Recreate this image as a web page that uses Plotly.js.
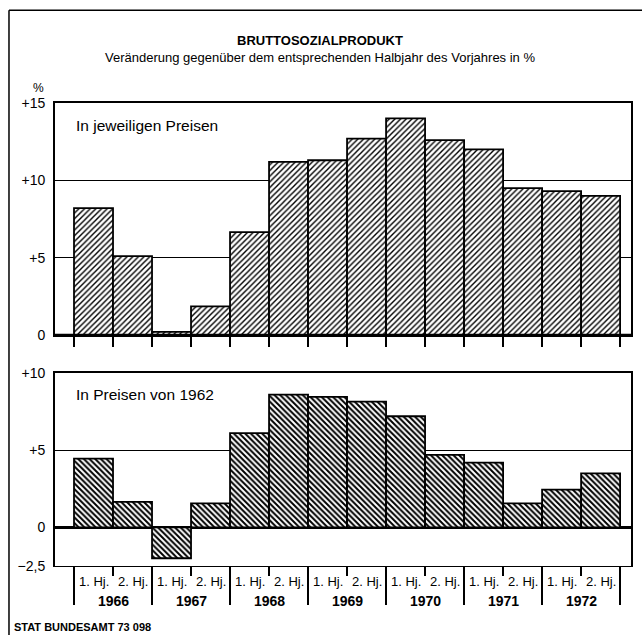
<!DOCTYPE html>
<html>
<head>
<meta charset="utf-8">
<script src="https://cdn.plot.ly/plotly-3.0.1.min.js"></script>
<style>
html,body{margin:0;padding:0;background:#fff;}
#chart{width:642px;height:635px;}
</style>
</head>
<body>
<div id="chart"></div>
<script>
// ---- data ----
const halfYearLabels = ["1. Hj.","2. Hj.","1. Hj.","2. Hj.","1. Hj.","2. Hj.","1. Hj.","2. Hj.","1. Hj.","2. Hj.","1. Hj.","2. Hj.","1. Hj.","2. Hj."];
const years = ["1966","1967","1968","1969","1970","1971","1972"];
const nominalChange = [8.2, 5.1, 0.2, 1.85, 6.65, 11.2, 11.3, 12.7, 14.0, 12.6, 12.0, 9.5, 9.3, 9.0];
const realChange = [4.45, 1.65, -2.0, 1.55, 6.1, 8.6, 8.45, 8.15, 7.2, 4.7, 4.2, 1.55, 2.45, 3.5];
const topTickVals = [0, 5, 10, 15];
const topTickText = ["0", "+5", "+10", "+15"];
const bottomTickVals = [-2.5, 0, 5, 10];
const bottomTickText = ["\u22122,5", "0", "+5", "+10"];

const FONT = "'Liberation Sans', Arial, sans-serif";
const xIdx = halfYearLabels.map((_, i) => i);
const boundaries = halfYearLabels.map((_, i) => i - 0.5).concat([halfYearLabels.length - 0.5]);
const yearBounds = years.map((_, k) => 2 * k - 0.5).concat([2 * years.length - 0.5]);
const midYear = years.map((_, k) => 2 * k + 0.5);
const xRange = [-1, 13.78];
const xDomain = [0.0849, 0.9829];

const traces = [
  {
    type: 'bar', x: xIdx, y: nominalChange, xaxis: 'x', yaxis: 'y', width: 1,
    marker: { color: '#fff', line: { color: '#000', width: 1.8 },
      pattern: { shape: '/', fgcolor: '#000', bgcolor: '#fff', size: 4, solidity: 0.35 } },
    hoverinfo: 'skip'
  },
  {
    type: 'bar', x: xIdx, y: realChange, xaxis: 'x2', yaxis: 'y2', width: 1,
    marker: { color: '#fff', line: { color: '#000', width: 1.8 },
      pattern: { shape: '\\', fgcolor: '#000', bgcolor: '#fff', size: 4, solidity: 0.5 } },
    hoverinfo: 'skip'
  }
];

const annotations = [];
halfYearLabels.forEach((t, i) => annotations.push({
  x: i, xref: 'x2', y: 0.0835, yref: 'paper', text: t, showarrow: false,
  font: { family: FONT, size: 13, color: '#000' }, xanchor: 'center', yanchor: 'middle'
}));
years.forEach((t, k) => annotations.push({
  x: 2 * k + 0.5, xref: 'x2', y: 0.054, yref: 'paper', text: '<b>' + t + '</b>', showarrow: false,
  font: { family: FONT, size: 14, color: '#000' }, xanchor: 'center', yanchor: 'middle'
}));
annotations.push(
  { x: 0.4984, y: 0.937, xref: 'paper', yref: 'paper', text: '<b>BRUTTOSOZIALPRODUKT</b>', showarrow: false,
    font: { family: FONT, size: 13, color: '#000' }, xanchor: 'center', yanchor: 'middle' },
  { x: 0.4984, y: 0.9087, xref: 'paper', yref: 'paper', text: 'Veränderung gegenüber dem entsprechenden Halbjahr des Vorjahres in %', showarrow: false,
    font: { family: FONT, size: 13, color: '#000' }, xanchor: 'center', yanchor: 'middle' },
  { x: 0.0607, y: 0.861, xref: 'paper', yref: 'paper', text: '%', showarrow: false,
    font: { family: FONT, size: 12, color: '#000' }, xanchor: 'center', yanchor: 'middle' },
  { x: 0.115, y: 0.803, xref: 'paper', yref: 'paper', text: 'In jeweiligen Preisen', showarrow: false,
    font: { family: FONT, size: 15.5, color: '#000' }, xanchor: 'left', yanchor: 'middle' },
  { x: 0.115, y: 0.378, xref: 'paper', yref: 'paper', text: 'In Preisen von 1962', showarrow: false,
    font: { family: FONT, size: 15.5, color: '#000' }, xanchor: 'left', yanchor: 'middle' },
  { x: 0.018, y: 0.012, xref: 'paper', yref: 'paper', text: '<b>STAT BUNDESAMT 73 098</b>', showarrow: false,
    font: { family: FONT, size: 11, color: '#000' }, xanchor: 'left', yanchor: 'middle' }
);

const axisCommon = { showgrid: false, zeroline: false, showline: true, mirror: true, linecolor: '#000', linewidth: 1.5 };

const layout = {
  width: 642, height: 635,
  margin: { l: 0, r: 0, t: 0, b: 0 },
  paper_bgcolor: '#fff', plot_bgcolor: '#fff',
  showlegend: false, bargap: 0,
  font: { family: FONT, color: '#000' },
  xaxis: Object.assign({}, axisCommon, {
    domain: xDomain, range: xRange, anchor: 'y',
    tickmode: 'array', tickvals: boundaries, ticks: 'outside', ticklen: 10, tickwidth: 1.5, tickcolor: '#000',
    showticklabels: false
  }),
  xaxis2: Object.assign({}, axisCommon, {
    domain: xDomain, range: xRange, anchor: 'y2',
    tickmode: 'array', tickvals: yearBounds, ticks: 'outside', ticklen: 38, tickwidth: 1.5, tickcolor: '#000',
    showticklabels: false,
    minor: { tickmode: 'array', tickvals: midYear, ticks: 'outside', ticklen: 9, tickwidth: 1.5, tickcolor: '#000', showgrid: false }
  }),
  yaxis: Object.assign({}, axisCommon, {
    domain: [0.4724, 0.8378], range: [0, 15], anchor: 'x',
    tickmode: 'array', tickvals: topTickVals, ticktext: topTickText, ticks: '',
    showgrid: true, gridcolor: '#000', gridwidth: 1,
    tickfont: { family: FONT, size: 14, color: '#000' }, ticklabelstandoff: 5
  }),
  yaxis2: Object.assign({}, axisCommon, {
    domain: [0.1087, 0.4126], range: [-2.5, 10], anchor: 'x2',
    tickmode: 'array', tickvals: bottomTickVals, ticktext: bottomTickText, ticks: '',
    showgrid: true, gridcolor: '#000', gridwidth: 1,
    zeroline: true, zerolinecolor: '#000', zerolinewidth: 2.5,
    tickfont: { family: FONT, size: 14, color: '#000' }, ticklabelstandoff: 5
  }),
  shapes: [
    { type: 'line', xref: 'x domain', yref: 'y', x0: 0, x1: 1, y0: 0, y1: 0, line: { color: '#000', width: 2.5 } },
    { type: 'line', xref: 'paper', yref: 'paper', x0: 0.014, x1: 1, y0: 0.984, y1: 0.984, line: { color: '#000', width: 1.5 } },
    { type: 'line', xref: 'paper', yref: 'paper', x0: 0.014, x1: 0.014, y0: 0, y1: 0.984, line: { color: '#000', width: 1.5 } }
  ],
  annotations: annotations
};

Plotly.newPlot('chart', traces, layout, { staticPlot: true, displayModeBar: false });
</script>
</body>
</html>
